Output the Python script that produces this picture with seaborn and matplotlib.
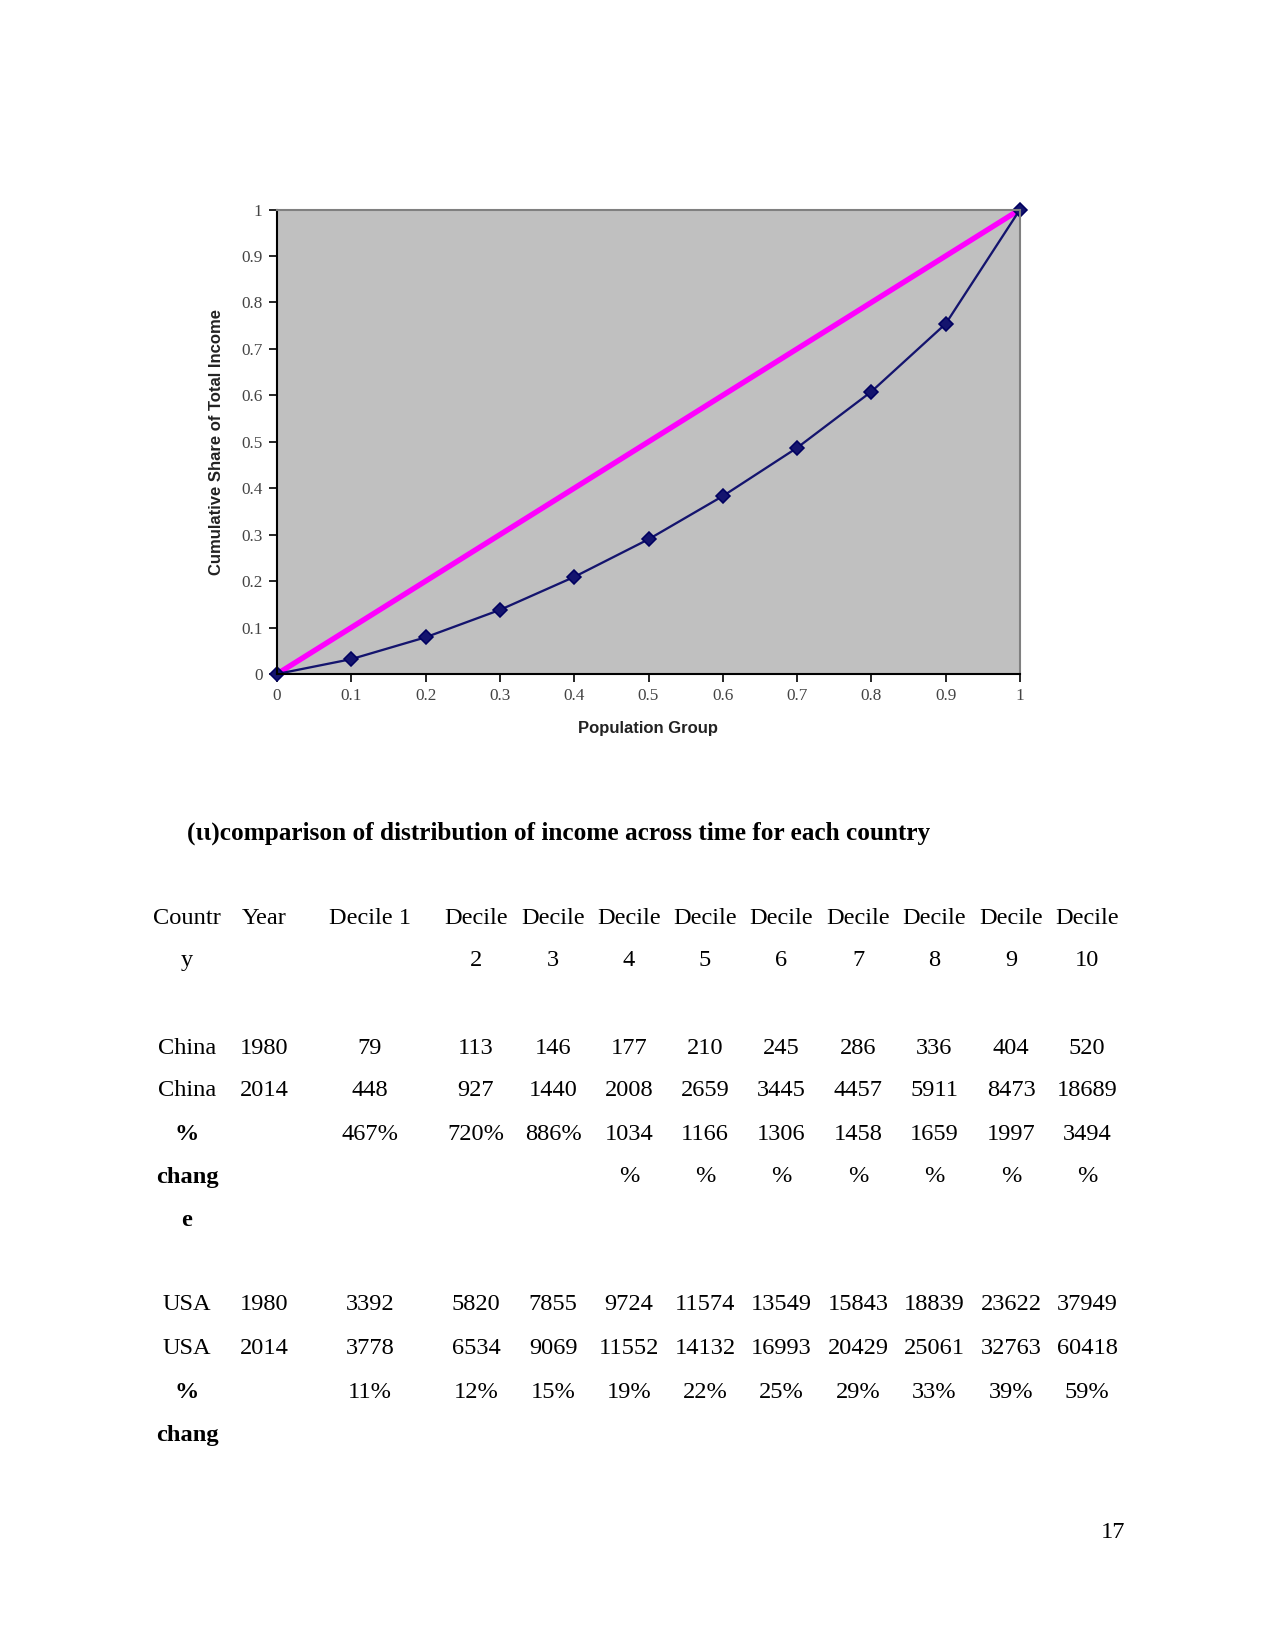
import matplotlib
matplotlib.use("Agg")
import matplotlib.pyplot as plt
import seaborn as sns
import pandas as pd

# ---------------- data ----------------
population = [0, 0.1, 0.2, 0.3, 0.4, 0.5, 0.6, 0.7, 0.8, 0.9, 1.0]
cum_income = [0, 0.032, 0.079, 0.138, 0.209, 0.290, 0.383, 0.487, 0.608, 0.754, 1.0]
equality = [0, 0.1, 0.2, 0.3, 0.4, 0.5, 0.6, 0.7, 0.8, 0.9, 1.0]
x_ticks = [0, 0.1, 0.2, 0.3, 0.4, 0.5, 0.6, 0.7, 0.8, 0.9, 1]
x_ticklabels = ["0", "0.1", "0.2", "0.3", "0.4", "0.5", "0.6", "0.7", "0.8", "0.9", "1"]
y_ticks = [0, 0.1, 0.2, 0.3, 0.4, 0.5, 0.6, 0.7, 0.8, 0.9, 1]
y_ticklabels = ["0", "0.1", "0.2", "0.3", "0.4", "0.5", "0.6", "0.7", "0.8", "0.9", "1"]

header_line1 = ["Countr", "Year", "Decile 1", "Decile", "Decile", "Decile", "Decile",
                "Decile", "Decile", "Decile", "Decile", "Decile"]
header_line2 = ["y", "", "", "2", "3", "4", "5", "6", "7", "8", "9", "10"]

china_1980 = [79, 113, 146, 177, 210, 245, 286, 336, 404, 520]
china_2014 = [448, 927, 1440, 2008, 2659, 3445, 4457, 5911, 8473, 18689]
china_pct = ["467%", "720%", "886%", "1034%", "1166%", "1306%", "1458%", "1659%", "1997%", "3494%"]
usa_1980 = [3392, 5820, 7855, 9724, 11574, 13549, 15843, 18839, 23622, 37949]
usa_2014 = [3778, 6534, 9069, 11552, 14132, 16993, 20429, 25061, 32763, 60418]
usa_pct = ["11%", "12%", "15%", "19%", "22%", "25%", "29%", "33%", "39%", "59%"]

title_text = "(ιι)comparison of distribution of income across time for each country"
page_number = "17"

# ---------------- figure ----------------
W, H = 1275, 1651
fig = plt.figure(figsize=(W / 150, H / 150), dpi=150)
fig.patch.set_facecolor("white")

def fx(px):
    return px / W

def fy(py):
    return 1 - py / H

left, right, top, bottom = 277, 1020, 209.5, 674
ax = fig.add_axes([fx(left), fy(bottom), fx(right) - fx(left), fy(top) - fy(bottom)])
ax.set_facecolor("#C0C0C0")

df = pd.DataFrame({"pop": population, "inc": cum_income, "eq": equality})
sns.lineplot(data=df, x="pop", y="eq", ax=ax, color="#FF00FF", linewidth=2.6, clip_on=False)
sns.lineplot(data=df, x="pop", y="inc", ax=ax, color="#14146E", linewidth=1.1,
             marker="D", markersize=4.5, markeredgecolor="#000060", clip_on=False)

ax.set_xlim(0, 1)
ax.set_ylim(0, 1)
ax.set_xticks(x_ticks)
ax.set_xticklabels(x_ticklabels, family="Liberation Serif", fontsize=8.3, color="#444444")
ax.set_yticks(y_ticks)
ax.set_yticklabels(y_ticklabels, family="Liberation Serif", fontsize=8.3, color="#444444")
ax.tick_params(axis="both", direction="out", length=4, width=0.8, color="black")
ax.tick_params(axis="x", pad=2.5)
ax.tick_params(axis="y", pad=3)
for s in ["left", "bottom"]:
    ax.spines[s].set_color("black")
    ax.spines[s].set_linewidth(1.0)
for s in ["top", "right"]:
    ax.spines[s].set_color("#808080")
    ax.spines[s].set_linewidth(1.0)
ax.set_xlabel("Population Group", family="Liberation Sans", fontweight="bold",
              fontsize=8, color="#222222", labelpad=8.5)
ax.set_ylabel("Cumulative Share of Total Income", family="Liberation Sans", fontweight="bold",
              fontsize=8, color="#222222", labelpad=8)

# ---------------- text / table ----------------
serif = "Liberation Serif"
fs = 11.7

fig.text(fx(187), fy(833), title_text, family=serif, fontweight="bold", fontsize=12.1,
         ha="left", va="center", color="black")

col_x = [187, 264, 370, 476, 553, 629, 705, 781, 858, 934, 1011, 1087]
row_y = {"h1": 919, "h2": 961, "c80": 1048, "c14": 1091, "cp": 1134, "cp2": 1177, "cp3": 1220,
         "u80": 1305, "u14": 1349, "up": 1392, "up2": 1435}

def put(x, y, s, bold=False):
    fig.text(fx(x), fy(y), s, family=serif, fontsize=fs, ha="center", va="center",
             fontweight="bold" if bold else "normal", color="black")

for i, (a, b) in enumerate(zip(header_line1, header_line2)):
    put(col_x[i], row_y["h1"], a)
    if b:
        put(col_x[i], row_y["h2"], b)

def data_row(label, year, values, key):
    put(col_x[0], row_y[key], label)
    put(col_x[1], row_y[key], str(year))
    for i, v in enumerate(values):
        put(col_x[i + 2], row_y[key], str(v))

data_row("China", 1980, china_1980, "c80")
data_row("China", 2014, china_2014, "c14")
put(col_x[0], row_y["cp"], "%", bold=True)
put(col_x[0], row_y["cp2"], "chang", bold=True)
put(col_x[0], row_y["cp3"], "e", bold=True)
for i, v in enumerate(china_pct):
    if len(v) > 4:
        put(col_x[i + 2], row_y["cp"], v[:-1])
        put(col_x[i + 2], row_y["cp2"], "%")
    else:
        put(col_x[i + 2], row_y["cp"], v)

data_row("USA", 1980, usa_1980, "u80")
data_row("USA", 2014, usa_2014, "u14")
put(col_x[0], row_y["up"], "%", bold=True)
put(col_x[0], row_y["up2"], "chang", bold=True)
for i, v in enumerate(usa_pct):
    put(col_x[i + 2], row_y["up"], v)

fig.text(fx(1125), fy(1532), page_number, family=serif, fontsize=fs, ha="right", va="center")

fig.savefig("out.png", dpi=150, facecolor="white")
